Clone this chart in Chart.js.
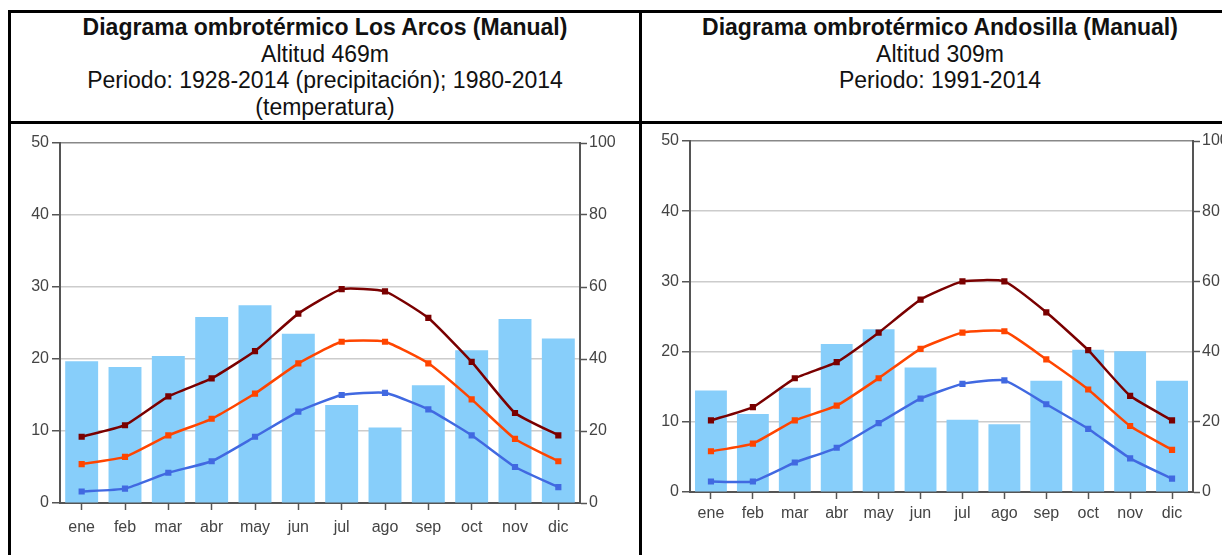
<!DOCTYPE html>
<html>
<head>
<meta charset="utf-8">
<script src="https://cdn.jsdelivr.net/npm/chart.js@4.4.0/dist/chart.umd.min.js"></script>
<style>
    html, body { margin: 0; padding: 0; overflow: hidden; background: #fff; width: 1222px; height: 555px; }
    body { position: relative; font-family: 'Liberation Sans', Arial, sans-serif; color: #000; }
    .line { position: absolute; background: #000; }
    .head { position: absolute; top: 14px; text-align: center; font-size: 23px; line-height: 26.5px; color: #111; }
    .head b { font-weight: bold; }
    .plot { position: absolute; top: 124px; }
</style>
</head>
<body>
<div class="line" style="left:8px; top:10px; width:1300px; height:3px;"></div>
<div class="line" style="left:8px; top:10px; width:3px; height:600px;"></div>
<div class="line" style="left:639px; top:10px; width:3px; height:600px;"></div>
<div class="line" style="left:8px; top:121px; width:1300px; height:3px;"></div>

<div class="head" style="left:11px; width:628px;">
    <b>Diagrama ombrotérmico Los Arcos (Manual)</b><br>
    Altitud 469m<br>
    Periodo: 1928-2014 (precipitación); 1980-2014<br>
    (temperatura)
</div>
<div class="head" style="left:642px; width:596px;">
    <b>Diagrama ombrotérmico Andosilla (Manual)</b><br>
    Altitud 309m<br>
    Periodo: 1991-2014
</div>

<div class="plot" style="left:11px; width:628px; height:431px;"><canvas id="arcosChart"></canvas></div>
<div class="plot" style="left:642px; width:600px; height:431px;"><canvas id="andosillaChart"></canvas></div>

<script>
const months = ['ene', 'feb', 'mar', 'abr', 'may', 'jun', 'jul', 'ago', 'sep', 'oct', 'nov', 'dic'];
const tempTicks = [0, 10, 20, 30, 40, 50];
const precipTicks = [0, 20, 40, 60, 80, 100];

// Los Arcos
const arcosPrecip = [39.4, 37.8, 40.8, 51.7, 54.9, 47.0, 27.2, 21.0, 32.7, 42.4, 51.1, 45.7];
const arcosMax = [9.2, 10.8, 14.8, 17.3, 21.1, 26.3, 29.7, 29.4, 25.7, 19.6, 12.5, 9.4];
const arcosMean = [5.4, 6.4, 9.4, 11.7, 15.2, 19.4, 22.4, 22.4, 19.4, 14.4, 8.9, 5.8];
const arcosMin = [1.6, 2.0, 4.2, 5.8, 9.2, 12.7, 15.0, 15.3, 13.0, 9.4, 5.0, 2.2];

// Andosilla
const andoPrecip = [28.9, 22.2, 29.7, 42.2, 46.4, 35.5, 20.6, 19.3, 31.7, 40.5, 40.1, 31.7];
const andoMax = [10.2, 12.1, 16.2, 18.5, 22.7, 27.4, 30.0, 30.0, 25.6, 20.2, 13.7, 10.2];
const andoMean = [5.8, 6.9, 10.2, 12.3, 16.2, 20.4, 22.7, 22.9, 18.9, 14.6, 9.4, 6.0];
const andoMin = [1.5, 1.5, 4.2, 6.3, 9.8, 13.3, 15.4, 15.9, 12.5, 9.0, 4.8, 1.9];

const tickFont = { family: "'Liberation Sans', Arial, sans-serif", size: 16 };
const tickColor = '#444';
const axisColor = '#555';

function lineSet(data, color) {
    return {
        type: 'line',
        data: data,
        yAxisID: 'y',
        borderColor: color,
        backgroundColor: color,
        borderWidth: 2.5,
        pointRadius: 2.6,
        pointStyle: 'rect',
        tension: 0.15,
        order: 1
    };
}

function drawClimate(id, precip, tMax, tMean, tMin, box) {
    const ctx = document.getElementById(id);
    return new Chart(ctx.getContext('2d'), {
        type: 'bar',
        data: {
            labels: months,
            datasets: [
                lineSet(tMax, '#7a0000'),
                lineSet(tMean, '#ff4500'),
                lineSet(tMin, '#4169e1'),
                {
                    type: 'bar',
                    data: precip,
                    yAxisID: 'y1',
                    backgroundColor: '#87cefa',
                    categoryPercentage: 1,
                    barPercentage: 0.76,
                    order: 10
                }
            ]
        },
        options: {
            responsive: true,
            maintainAspectRatio: false,
            animation: false,
            events: [],
            layout: { padding: { top: box.top, left: 0, right: 0, bottom: 0 } },
            plugins: { legend: { display: false }, tooltip: { enabled: false } },
            scales: {
                x: {
                    offset: true,
                    afterFit: (s) => { s.height = box.xHeight; },
                    grid: {
                        offset: false,
                        drawOnChartArea: false,
                        tickLength: 7,
                        tickColor: axisColor,
                        tickWidth: 1.5
                    },
                    border: { color: axisColor, width: 2 },
                    ticks: { color: tickColor, font: tickFont, padding: box.xPad, maxRotation: 0 }
                },
                y: {
                    position: 'left',
                    min: 0,
                    max: 50,
                    afterFit: (s) => { s.width = box.left; },
                    afterBuildTicks: (s) => { s.ticks = tempTicks.map(v => ({ value: v })); },
                    grid: {
                        color: (c) => c.tick.value === 50 ? '#888' : (c.tick.value === 0 ? 'rgba(0,0,0,0)' : '#cccccc'),
                        lineWidth: 1.5,
                        tickLength: 8,
                        tickColor: axisColor,
                        tickWidth: 1.5
                    },
                    border: { color: axisColor, width: 2 },
                    ticks: { color: tickColor, font: tickFont, padding: 3 }
                },
                y1: {
                    position: 'right',
                    min: 0,
                    max: 100,
                    afterFit: (s) => { s.width = box.right; },
                    afterBuildTicks: (s) => { s.ticks = precipTicks.map(v => ({ value: v })); },
                    grid: {
                        drawOnChartArea: false,
                        tickLength: 7,
                        tickColor: axisColor,
                        tickWidth: 1.5
                    },
                    border: { color: axisColor, width: 2 },
                    ticks: { color: tickColor, font: tickFont, padding: 2 }
                }
            }
        }
    });
}

drawClimate('arcosChart', arcosPrecip, arcosMax, arcosMean, arcosMin,
    { top: 19, left: 49, right: 59, xHeight: 52, xPad: 8 });
drawClimate('andosillaChart', andoPrecip, andoMax, andoMean, andoMin,
    { top: 17, left: 48, right: 49, xHeight: 63, xPad: 5 });
</script>
</body>
</html>
